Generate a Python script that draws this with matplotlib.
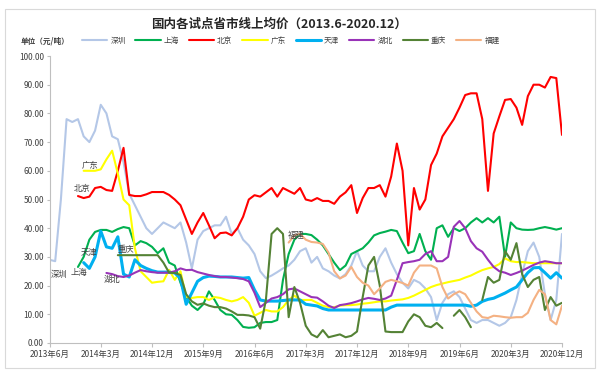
import numpy as np
import pandas as pd
import matplotlib
matplotlib.use("Agg")
import matplotlib.pyplot as plt
from matplotlib.patches import Rectangle

plt.rcParams['font.family'] = ['Noto Sans CJK SC', 'DejaVu Sans']

N = np.nan
months = [p.strftime('%Y-%m') for p in pd.period_range('2013-06', '2020-12', freq='M')]
tick_labels = ['2013年6月', '2014年3月', '2014年12月', '2015年9月', '2016年6月', '2017年3月',
               '2017年12月', '2018年9月', '2019年6月', '2020年3月', '2020年12月']

shenzhen = [29, 28.5, 50, 78, 77, 78, 72, 70, 74, 83, 80, 72, 71, 63, 52,
            48, 44, 40, 38, 40, 42, 41, 40, 42, 35, 26, 36, 39, 40, 41,
            41, 44, 38, 40, 36, 34, 31, 25, 22.6, 23.5, 24.7, 26, 27, 29, 32,
            33, 28, 30, 26, 25, 23.5, 22.5, 24, 27, 32, 27, 25, 25, 30, 33,
            28, 24, 21, 19, 22, 21, 19, 16, 8, 14, 17, 18, 16, 12, 8,
            7, 8, 8, 7, 6, 7, 9, 15, 24, 32, 35, 30, 17, 8, 15, 38]
shanghai = [N, N, N, N, N, 26.5, 30, 36, 38.7, 39.4, 39.4, 38.7, 39.7, 40.4, 40,
            34, 35.5, 34.8, 33.5, 31.3, 33, 28, 27, 21, 16, 13, 11.5, 13.5, 18, 15,
            11.5, 10, 9.8, 8, 5.6, 5.3, 5.5, 7, 7.3, 7.3, 8, 22, 31, 36, 38,
            38, 37.6, 36, 34, 31, 28, 25.4, 27, 31, 32, 33, 35, 37.5, 38.3, 38.8,
            39.4, 39, 35, 31.3, 32, 38, 32, 29, 40, 41, 37, 40, 39, 40, 42,
            43.5, 42, 43.5, 42, 44, 30, 42, 40, 39.5, 39.4, 39.5, 40, 40.4, 40, 39.5, 40]
beijing = [N, N, N, N, N, 51.2, 50.5, 51, 54, 54.4, 53.3, 53, 60, 68, 51.6,
           51.2, 51.2, 51.8, 52.6, 52.6, 52.6, 51.6, 50, 48, 43, 38, 42, 45.3, 41, 36.5,
           38.3, 38.5, 37.5, 40, 44, 50, 51.5, 51, 52.5, 54, 51, 54, 53, 52, 54,
           50, 49.5, 50.5, 49.5, 49.5, 48.5, 51, 52.5, 55, 45.3, 50.5, 54, 54, 55, 51,
           58, 69.5, 60, 34, 54, 46.5, 50, 62, 66, 72, 75, 78, 82, 86.4, 87,
           87, 78, 53, 73, 79, 84.7, 85, 82, 76, 86, 90, 90, 89, 92.7, 92.3, 72.5]
guangdong = [N, N, N, N, N, N, 60, 60, 60, 60.5, 64, 67, 59, 50, 48,
             33, 25, 23, 21, 21.3, 21.5, 25.5, 22, 25, 16, 15.7, 16, 16, 15, 16,
             15.7, 15, 14.5, 15, 16, 14, 9.5, 10.5, 11.5, 11, 11, 12.5, 15, 16.5, 15,
             15, 15, 14, 13, 12.5, 12.5, 13, 13.2, 13.2, 13.4, 13.7, 13.9, 14.2, 14.5, 14.5,
             14.8, 15, 15.2, 15.7, 16.5, 17.5, 18.5, 19.5, 20.2, 20.7, 21.2, 21.6, 22, 22.8, 23.5,
             24.5, 25.4, 26, 26.5, 27.5, 29.5, 28.5, 28.2, 28.2, 28, 27.8, 27.8, 27.8, 27.8, 27.8, 27.8]
tianjin = [N, N, N, N, N, N, 28, 26, 30, 39, 33.5, 33, 37, 24, 23,
           29, 27, 26, 25.2, 24.7, 24.7, 24.7, 24.4, 22.5, 13.5, 17.5, 21.5, 22.8, 23.3, 23.2,
           23, 23, 23, 22.8, 22.6, 22.8, 18.5, 15, 14.6, 14.6, 14.6, 14.8, 15, 15, 15,
           13.5, 13.2, 12.9, 12, 11.5, 11.5, 11.5, 11.5, 11.5, 11.5, 11.5, 11.5, 11.5, 11.5, 11.5,
           12.5, 13.2, 13.2, 13.2, 13.2, 13.2, 13.2, 13.2, 13.2, 13.2, 13.2, 13.2, 13.2, 13.2, 12.8,
           13.2, 14.5, 15.2, 15.6, 16.5, 17.4, 18.5, 19.5, 22, 24.5, 26.2, 26.3, 24.5, 22.6, 24.5, 22.6]
hubei = [N, N, N, N, N, N, N, N, N, N, 24.4, 24, 23.3, 23, 23.5,
         24.5, 25.4, 25, 24.7, 24.5, 24.5, 24.5, 25, 26, 25.4, 25.5, 24.7, 24.2, 23.7, 23.3,
         23, 23, 22.8, 22.6, 22.3, 21.5, 17.5, 12.5, 14, 15.5, 16, 17, 18.7, 19, 18,
         17, 16, 15.8, 14.5, 13, 12.2, 13.2, 13.5, 13.9, 14.5, 15.2, 15.7, 15.4, 15, 15.5,
         16.5, 22, 27.8, 28.2, 28.5, 29, 31, 32, 28.5, 28.5, 30, 40.5, 42.5, 40, 35.5,
         33, 31.8, 29, 26.5, 25, 24.5, 23.7, 24.4, 25.2, 26.2, 27.2, 28, 28.5, 28.2, 27.8, 27.8]
chongqing = [N, N, N, N, N, N, N, N, N, N, N, N, 30.6, 30.6, 30.6,
             30.6, 30.6, 30.6, 30.6, 30.6, 28, 24.5, 24.4, 23.7, 17, 14.5, 13.3, 13.8, 13, 12.5,
             12.5, 12, 11, 9.8, 9.8, 9.6, 9, 5, 15, 38, 40, 38, 9, 19.5, 14,
             6, 3, 2, 4.5, 2, 2.5, 3, 2, 2.5, 4, 16, 27, 30, 20, 4,
             3.8, 3.8, 3.8, 7.5, 10, 9, 6, 5.5, 7, 5.2, N, 9.5, 11.5, 9, 5.5,
             N, 15, 23, 21, 22, 32, 29, 34.8, 24, 19.5, 22, 23, 11.5, 16, 13, 14]
fujian = [N] * 42 + [35, 37.5, 38,
          36, 35.2, 35, 34.5, 31.5, 25, 22.5, 23.5, 26.5, 23, 21, 20, 17, 19, 21.3,
          22, 21.5, 20.9, 20, 24.5, 27, 27, 27, 26, 19.5, 15.5, 17, 18, 17, 14,
          11, 9, 8.7, 9.5, 9.3, 9, 8.8, 9, 9, 10.5, 15, 18.5, 17, 8, 6.5, 13]

series = [
    ('深圳', shenzhen, '#B4C7E7', 1.5),
    ('上海', shanghai, '#00B050', 1.5),
    ('北京', beijing, '#FF0000', 1.5),
    ('广东', guangdong, '#FFFF00', 1.5),
    ('天津', tianjin, '#00B0F0', 2.2),
    ('湖北', hubei, '#9933B8', 1.5),
    ('重庆', chongqing, '#548235', 1.5),
    ('福建', fujian, '#F4B183', 1.5),
]

fig = plt.figure(figsize=(6, 3.74), dpi=100)
ax = fig.add_axes([49.5 / 600, 31 / 374, (562 - 49.5) / 600, 287 / 374])

x = np.arange(len(months))
handles = []
for name, vals, color, lw in series:
    h, = ax.plot(x, np.array(vals, dtype=float), color=color, lw=lw, label=name,
                 solid_joinstyle='round', solid_capstyle='round')
    handles.append(h)

ax.set_xlim(0, len(months) - 1)
ax.set_ylim(0, 100)
ax.set_yticks(np.arange(0, 101, 10))
ax.set_yticklabels([f'{v:.2f}' for v in np.arange(0, 101, 10)])
ax.set_xticks(np.arange(0, len(months), 9))
ax.set_xticklabels(tick_labels)

for s in ['top', 'right']:
    ax.spines[s].set_visible(False)
for s in ['left', 'bottom']:
    ax.spines[s].set_color('#BFBFBF')
    ax.spines[s].set_linewidth(0.8)
ax.tick_params(axis='both', colors='#BFBFBF', labelcolor='#404040', labelsize=6)
ax.tick_params(axis='y', length=2, pad=2)
ax.tick_params(axis='x', length=3, pad=2)

# series name annotations
notes = [('广东', 7.2, 62), ('北京', 5.8, 54), ('天津', 7.0, 31.4), ('深圳', 1.6, 23.7),
         ('上海', 5.1, 24.4), ('重庆', 13.5, 32.4), ('湖北', 11.0, 22.3), ('福建', 43.4, 37.6)]
for t, mx, my in notes:
    ax.text(mx, my, t, fontsize=6, color='#404040', ha='center', va='center')

fig.text(279 / 600, 1 - 24 / 374, '国内各试点省市线上均价（2013.6-2020.12）',
         ha='center', va='center', fontsize=9, fontweight='bold', color='#262626')
fig.text(21 / 600, 1 - 41 / 374, '单位（元/吨）', ha='left', va='center',
         fontsize=5.5, fontweight='bold', color='#404040')

fig.legend(handles=handles, loc='center left', bbox_to_anchor=(82 / 600, 1 - 41 / 374),
           ncol=8, frameon=False, fontsize=5.5, handlelength=3.3, handletextpad=0.4,
           columnspacing=1.3, borderpad=0, borderaxespad=0, labelcolor='#404040')

fig.patches.append(Rectangle((5 / 600, 6 / 374), 590 / 600, 359 / 374,
                             transform=fig.transFigure, fill=False,
                             edgecolor='#D9D9D9', lw=0.8))

fig.savefig('out.png', dpi=100)
